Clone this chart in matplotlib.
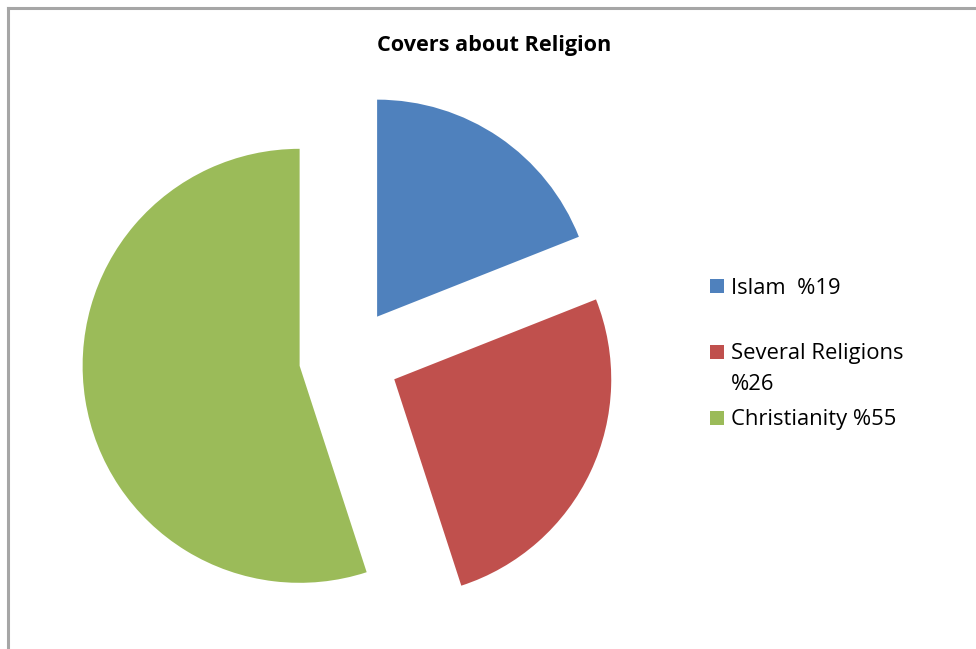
import matplotlib
matplotlib.use("Agg")
import matplotlib.pyplot as plt
from matplotlib.patches import Rectangle
from matplotlib.lines import Line2D

# Share of religion-themed covers
categories = ["Islam", "Several Religions", "Christianity"]
shares = [19, 26, 55]
legend_labels = ["Islam  %19", "Several Religions\n%26", "Christianity %55"]
colors = ["#4F81BD", "#C0504D", "#9BBB59"]
title = "Covers about Religion"

W, H = 976, 649
fig = plt.figure(figsize=(W / 100, H / 100), dpi=100)
fig.patch.set_facecolor("white")

# Axes spans the whole canvas, units are pixels (y measured upward)
ax = fig.add_axes([0, 0, 1, 1])
radius = 217
explode_px = 50
ax.pie(shares, colors=colors, startangle=90, counterclock=False,
       radius=radius, center=(349, H - 358),
       explode=[explode_px] * len(shares),
       frame=True, wedgeprops=dict(linewidth=0))
ax.set_xlim(0, W)
ax.set_ylim(0, H)
ax.set_aspect("auto")
ax.axis("off")

# Chart area frame (top and left edges visible)
for seg in [((7.5, 7.5), (H - 7.5, 0)), ((7.5, W), (H - 7.5, H - 7.5))]:
    fig.add_artist(Line2D(seg[0], seg[1], transform=None, color="#A6A6A6",
                          linewidth=2.2))

fig.text(494 / W, 1 - 46 / H, title, ha="center", va="center",
         fontsize=15.6, fontweight="bold", family="Open Sans", color="#000000")

# Legend entries
entry_y = [286, 352, 418]
for lab, col, y in zip(legend_labels, colors, entry_y):
    fig.add_artist(Rectangle(((710) / W, 1 - (y + 7) / H), 14 / W, 14 / H,
                             transform=fig.transFigure, facecolor=col,
                             edgecolor="none"))
    lines = lab.split("\n")
    for k, ln in enumerate(lines):
        fig.text(731 / W, 1 - (y + 2 + 30 * k) / H, ln, ha="left", va="center",
                 fontsize=15.8, family="Open Sans", color="#000000")

fig.savefig("out.png", dpi=100, facecolor="white")
